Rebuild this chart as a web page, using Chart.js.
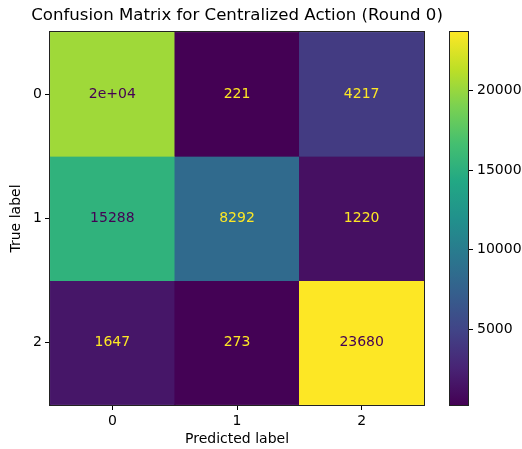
<!DOCTYPE html>
<html>
<head>
<meta charset="utf-8">
<script src="https://cdn.jsdelivr.net/npm/chart.js@4.4.1/dist/chart.umd.min.js"></script>
<style>
  body { margin: 0; background: #fff; }
  #wrap { position: relative; width: 522px; height: 449px; }
  #wrap canvas { position: absolute; left: 0; top: 0; }
</style>
</head>
<body>
<div id="wrap">
  <canvas id="matrix" width="522" height="449"></canvas>
  <canvas id="colorbar" width="522" height="449"></canvas>
</div>
<script>
// confusion matrix values (rows = true label, cols = predicted label)
const rowLabels = ['0', '1', '2'];
const colLabels = ['0', '1', '2'];
const row0 = [20300, 221, 4217];
const row1 = [15288, 8292, 1220];
const row2 = [1647, 273, 23680];
const colorbarTicks = [5000, 10000, 15000, 20000];
const titleText = 'Confusion Matrix for Centralized Action (Round 0)';

const matrix = [row0, row1, row2];
const allValues = matrix.flat();
const vmin = Math.min.apply(null, allValues);
const vmax = Math.max.apply(null, allValues);

const viridisStops = ['#440154', '#482475', '#414487', '#355f8d', '#2a788e', '#21918c',
    '#22a884', '#44bf70', '#7ad151', '#bddf26', '#fde725'];

function hexToRgb(h) {
    return [parseInt(h.slice(1, 3), 16), parseInt(h.slice(3, 5), 16), parseInt(h.slice(5, 7), 16)];
}
function viridis(t) {
    t = Math.max(0, Math.min(1, t));
    const pos = t * (viridisStops.length - 1);
    const i = Math.min(Math.floor(pos), viridisStops.length - 2);
    const f = pos - i;
    const a = hexToRgb(viridisStops[i]);
    const b = hexToRgb(viridisStops[i + 1]);
    const c = a.map(function(v, k) { return Math.round(v + (b[k] - v) * f); });
    return 'rgb(' + c.join(',') + ')';
}
function norm(v) { return (v - vmin) / (vmax - vmin); }

// python-ish ".2g", keep the plain integer if it is shorter (like sklearn)
function formatCell(v) {
    const exp = Math.floor(Math.log10(Math.abs(v)));
    let g;
    if (exp < -4 || exp >= 2) {
        let m = (v / Math.pow(10, exp)).toPrecision(2).replace(/\.?0+$/, '');
        g = m + 'e' + (exp < 0 ? '-' : '+') + String(Math.abs(exp)).padStart(2, '0');
    } else {
        g = String(Number(v.toPrecision(2)));
    }
    const d = String(Math.round(v));
    return d.length < g.length ? d : g;
}

Chart.defaults.font.family = 'DejaVu Sans';
Chart.defaults.font.size = 14;
Chart.defaults.color = '#000';

const frame = {
    id: 'frame',
    afterDraw: function(chart) {
        const a = chart.chartArea;
        const ctx = chart.ctx;
        ctx.save();
        ctx.strokeStyle = '#222';
        ctx.lineWidth = 1;
        ctx.strokeRect(Math.round(a.left) - 0.5, Math.round(a.top) - 0.5,
            Math.round(a.right - a.left) + 1, Math.round(a.bottom - a.top) + 1);
        ctx.restore();
    }
};

// title centred over the plot area, not squeezed to its width
const plotTitle = {
    id: 'plotTitle',
    afterDraw: function(chart) {
        const a = chart.chartArea;
        const ctx = chart.ctx;
        ctx.save();
        ctx.font = '16.6px "DejaVu Sans"';
        ctx.fillStyle = '#000';
        ctx.textAlign = 'center';
        ctx.textBaseline = 'middle';
        ctx.fillText(titleText, (a.left + a.right) / 2, 16);
        ctx.restore();
    }
};

const cellText = {
    id: 'cellText',
    afterDatasetsDraw: function(chart) {
        const ctx = chart.ctx;
        const threshold = (vmax + vmin) / 2;
        ctx.save();
        ctx.font = '14px "DejaVu Sans"';
        ctx.textAlign = 'center';
        ctx.textBaseline = 'middle';
        matrix.forEach(function(row, r) {
            const meta = chart.getDatasetMeta(r);
            row.forEach(function(v, c) {
                const el = meta.data[c];
                ctx.fillStyle = v < threshold ? viridis(1) : viridis(0);
                ctx.fillText(formatCell(v), el.x, (el.y + el.base) / 2);
            });
        });
        ctx.restore();
    }
};

new Chart(document.getElementById('matrix'), {
    type: 'bar',
    data: {
        labels: colLabels,
        datasets: matrix.map(function(row, r) {
            return {
                label: rowLabels[r],
                data: row.map(function() { return [r - 0.5, r + 0.5]; }),
                backgroundColor: row.map(function(v) { return viridis(norm(v)); }),
                borderColor: row.map(function(v) { return viridis(norm(v)); }),
                borderWidth: 0.5,
                borderSkipped: false,
                barPercentage: 1,
                categoryPercentage: 1,
                grouped: false,
            };
        })
    },
    options: {
        responsive: false,
        animation: false,
        layout: { padding: { left: 0, right: 98, top: 32, bottom: 0 } },
        plugins: {
            legend: { display: false },
            tooltip: { enabled: false },
            title: { display: false }
        },
        scales: {
            x: {
                type: 'category',
                offset: true,
                grid: { display: true, drawOnChartArea: false, drawTicks: true, tickLength: 5, offset: false, color: '#000' },
                border: { display: false },
                ticks: { padding: 3, color: '#000' },
                title: { display: true, text: 'Predicted label', color: '#000', padding: { top: 0, bottom: 1 } },
                afterFit: function(scale) { scale.height = 44; }
            },
            y: {
                type: 'linear',
                reverse: true,
                min: -0.5,
                max: 2.5,
                grid: { display: true, drawOnChartArea: false, drawTicks: true, tickLength: 5, color: '#000' },
                border: { display: false },
                afterBuildTicks: function(scale) {
                    scale.ticks = rowLabels.map(function(_, i) { return { value: i }; });
                },
                ticks: {
                    padding: 3,
                    color: '#000',
                    callback: function(value) { return rowLabels[value]; }
                },
                title: { display: true, text: 'True label', color: '#000', padding: { top: 8, bottom: 0 } },
                afterFit: function(scale) { scale.width = 50; }
            }
        }
    },
    plugins: [cellText, frame, plotTitle]
});

new Chart(document.getElementById('colorbar'), {
    type: 'bar',
    data: {
        labels: ['cb'],
        datasets: [{
            data: [[vmin, vmax]],
            barPercentage: 1,
            categoryPercentage: 1,
            borderWidth: 0,
            borderSkipped: false,
            backgroundColor: function(ctx) {
                const a = ctx.chart.chartArea;
                if (!a) return viridis(0.5);
                const g = ctx.chart.ctx.createLinearGradient(0, a.bottom, 0, a.top);
                viridisStops.forEach(function(s, i) { g.addColorStop(i / (viridisStops.length - 1), s); });
                return g;
            }
        }]
    },
    options: {
        responsive: false,
        animation: false,
        layout: { padding: { left: 450, right: 0, top: 32, bottom: 44 } },
        plugins: { legend: { display: false }, tooltip: { enabled: false } },
        scales: {
            x: { display: false },
            y: {
                position: 'right',
                min: vmin,
                max: vmax,
                grid: { display: true, drawOnChartArea: false, drawTicks: true, tickLength: 5, color: '#000' },
                border: { display: false },
                afterBuildTicks: function(scale) {
                    scale.ticks = colorbarTicks.map(function(v) { return { value: v }; });
                },
                ticks: {
                    padding: 4,
                    color: '#000',
                    callback: function(value) { return String(value); }
                },
                afterFit: function(scale) { scale.width = 54; }
            }
        }
    },
    plugins: [frame]
});
</script>
</body>
</html>
